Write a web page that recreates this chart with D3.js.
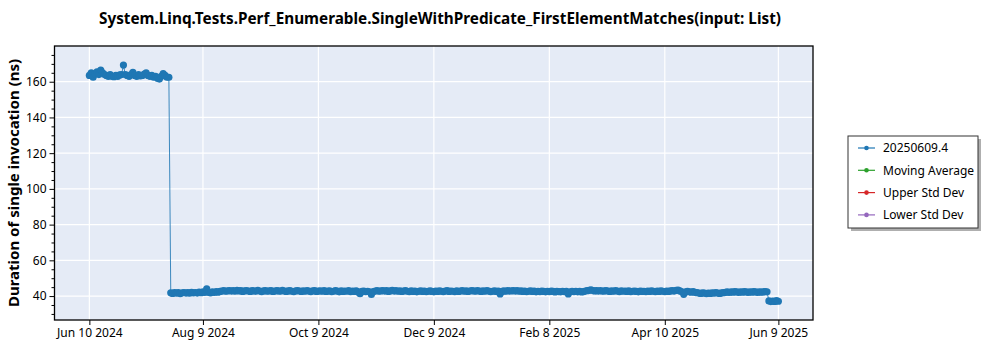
<!DOCTYPE html>
<html>
<head>
<meta charset="utf-8">
<script src="https://cdn.jsdelivr.net/npm/d3@7"></script>
<style>
  html, body { margin: 0; padding: 0; background: #fff; }
  svg { display: block; font-family: "Noto Sans", "Open Sans", sans-serif; }
</style>
</head>
<body>
<svg id="chart" width="1000" height="350"></svg>
<script>
// Benchmark run history: one measurement per day, starting on the first run date.
const title = "System.Linq.Tests.Perf_Enumerable.SingleWithPredicate_FirstElementMatches(input: List)";
const yLabel = "Duration of single invocation (ns)";
const seriesNames = ["20250609.4", "Moving Average", "Upper Std Dev", "Lower Std Dev"];
const seriesColors = ["#1f77b4", "#2ca02c", "#d62728", "#9467bd"];
const firstRunDate = "2024-06-10";
const xTickLabels = ["2024-06-10", "2024-08-09", "2024-10-09", "2024-12-09", "2025-02-08", "2025-04-10", "2025-06-09"];
const yTicks = [40, 60, 80, 100, 120, 140, 160];

// Jun 10 – Jul 22 2024
const durationsHigh = [
  163.5, 165.0, 162.5, 164.5, 165.5, 164.0, 166.5, 165.0, 164.0, 163.5,
  163.0, 164.0, 163.0, 162.8, 163.5, 163.0, 163.8, 164.0, 169.3, 164.0,
  163.5, 163.0, 164.0, 165.2, 163.5, 163.0, 164.0, 163.2, 163.5, 164.2,
  165.0, 163.5, 163.0, 163.5, 162.5, 163.0, 162.0, 161.5, 163.0, 164.5,
  163.5, 162.5, 162.5
];
// Jul 23 2024 – Jun 3 2025
const durationsLow = [
  41.8, 41.5, 42.0, 41.6, 41.9, 41.4, 41.8, 42.0, 41.7, 41.9,
  41.6, 42.1, 41.8, 42.0, 41.7, 42.2, 41.9, 42.3, 42.0, 44.0,
  42.1, 41.8, 42.3, 42.0, 42.5, 42.2, 42.6, 42.8, 43.0, 42.7,
  42.9, 43.1, 42.8, 43.0, 42.7, 43.2, 42.9, 43.0, 42.6, 42.9,
  43.1, 42.8, 42.6, 43.0, 42.9, 42.7, 43.2, 42.8, 42.5, 42.9,
  43.0, 42.7, 42.9, 43.1, 42.6, 42.8, 43.0, 42.9, 42.7, 43.2,
  42.8, 42.6, 42.9, 43.0, 42.7, 42.5, 42.9, 43.1, 42.8, 42.6,
  42.9, 42.7, 43.0, 42.8, 42.5, 42.9, 43.1, 42.6, 42.8, 42.9,
  42.7, 43.0, 42.6, 42.8, 42.9, 42.5, 42.7, 43.0, 42.8, 42.4,
  42.9, 42.6, 42.8, 42.7, 43.0, 42.5, 42.8, 42.6, 42.9, 42.3,
  41.3, 42.6, 42.8, 42.5, 42.7, 42.4, 40.9, 42.5, 42.8, 43.0,
  42.7, 42.9, 43.1, 42.8, 43.0, 42.6, 42.9, 43.2, 42.8, 43.0,
  42.7, 42.9, 42.6, 42.8, 43.0, 42.7, 42.5, 42.9, 42.6, 42.8,
  42.4, 42.7, 42.9, 42.6, 42.8, 42.5, 42.7, 42.9, 42.6, 42.4,
  42.8, 42.6, 42.9, 42.7, 42.5, 42.8, 43.0, 42.6, 42.8, 42.7,
  42.5, 42.9, 42.6, 42.8, 43.0, 42.7, 42.9, 42.6, 42.8, 43.1,
  42.9, 42.7, 43.0, 42.8, 42.6, 42.9, 42.7, 43.0, 42.8, 42.5,
  42.7, 42.9, 42.6, 42.8, 41.2, 42.6, 42.9, 42.7, 43.0, 42.8,
  42.9, 43.1, 42.8, 43.0, 42.7, 42.9, 42.6, 42.8, 42.5, 42.7,
  42.9, 42.6, 42.8, 42.4, 42.7, 42.5, 42.8, 42.6, 42.4, 42.7,
  42.5, 42.8, 42.6, 42.3, 42.7, 42.5, 42.4, 42.7, 42.5, 42.6,
  41.2, 42.4, 42.6, 42.5, 42.7, 42.4, 42.6, 42.3, 42.5, 42.8,
  43.0, 43.2, 43.5, 43.1, 42.9, 43.0, 42.8, 43.1, 42.7, 42.9,
  43.0, 42.8, 42.6, 42.9, 42.7, 43.0, 42.8, 42.5, 42.9, 42.7,
  42.8, 42.6, 42.9, 42.5, 42.7, 42.8, 42.6, 42.4, 42.8, 42.6,
  42.7, 42.5, 42.8, 42.6, 42.9, 42.7, 42.5, 42.8, 42.6, 42.9,
  42.7, 42.5, 42.8, 42.6, 42.9, 43.0, 42.8, 43.2, 43.4, 42.9,
  42.4, 41.0, 42.3, 42.6, 42.4, 42.2, 42.5, 42.1, 41.9, 41.7,
  41.5, 41.8, 41.6, 41.4, 41.7, 41.5, 41.8, 41.6, 41.9, 41.7,
  41.5, 41.8, 41.9, 42.1, 42.3, 42.0, 42.4, 42.2, 42.5, 42.3,
  42.1, 42.4, 42.2, 42.5, 42.3, 42.1, 42.4, 42.2, 42.5, 42.3,
  42.1, 42.4, 42.2, 42.3, 42.5, 42.4
];
// Jun 4 – Jun 9 2025
const durationsLatest = [37.3, 36.9, 37.2, 37.0, 37.4, 37.1];

const durations = durationsHigh.concat(durationsLow, durationsLatest);
const parseDay = d3.utcParse("%Y-%m-%d");
const start = parseDay(firstRunDate);
const points = durations.map((v, i) => ({ date: d3.utcDay.offset(start, i), value: v }));

const svg = d3.select("#chart");
const margin = { left: 54.5, top: 46, right: 813, bottom: 320 };

const x = d3.scaleUtc()
  .domain([new Date(Date.UTC(2024, 4, 22, 14)), new Date(Date.UTC(2025, 5, 27, 7))])
  .range([margin.left, margin.right]);
const y = d3.scaleLinear().domain([26.6, 180]).range([margin.bottom, margin.top]);

const xTicks = xTickLabels.map(parseDay);
const fmt = d3.utcFormat("%b %-d %Y");

// plot background
svg.append("rect")
  .attr("x", margin.left).attr("y", margin.top)
  .attr("width", margin.right - margin.left).attr("height", margin.bottom - margin.top)
  .attr("fill", "#e5ebf6");

// grid
const grid = svg.append("g").attr("stroke", "#ffffff").attr("stroke-width", 1.2);
grid.selectAll("line.v").data(xTicks).join("line")
  .attr("x1", d => x(d)).attr("x2", d => x(d))
  .attr("y1", margin.top).attr("y2", margin.bottom);
grid.selectAll("line.h").data(yTicks).join("line")
  .attr("y1", d => y(d)).attr("y2", d => y(d))
  .attr("x1", margin.left).attr("x2", margin.right);

// series
svg.append("clipPath").attr("id", "plotClip").append("rect")
  .attr("x", margin.left).attr("y", margin.top)
  .attr("width", margin.right - margin.left).attr("height", margin.bottom - margin.top);
const plot = svg.append("g").attr("clip-path", "url(#plotClip)");
const line = d3.line().x(d => x(d.date)).y(d => y(d.value));
plot.append("path").datum(points)
  .attr("fill", "none").attr("stroke", seriesColors[0]).attr("stroke-width", 1).attr("stroke-opacity", 0.85)
  .attr("d", line);
plot.selectAll("circle").data(points).join("circle")
  .attr("cx", d => x(d.date)).attr("cy", d => y(d.value)).attr("r", 3.6)
  .attr("fill", seriesColors[0]);

// axes
const xAxis = d3.axisBottom(x).tickValues(xTicks).tickFormat(fmt).tickSizeOuter(0).tickSize(5).tickPadding(3);
const gx = svg.append("g").attr("transform", `translate(0,${margin.bottom})`).call(xAxis);
const yMinor = d3.range(30, 180, 5).filter(v => v % 20 !== 0);
const gyMinor = svg.append("g").attr("transform", `translate(${margin.left},0)`)
  .call(d3.axisLeft(y).tickValues(yMinor).tickFormat("").tickSize(3).tickSizeOuter(0));
const gy = svg.append("g").attr("transform", `translate(${margin.left},0)`)
  .call(d3.axisLeft(y).tickValues(yTicks).tickSize(5).tickSizeOuter(0).tickPadding(3));
[gx, gy, gyMinor].forEach(g => {
  g.select(".domain").remove();
  g.selectAll("line").attr("stroke", "#000");
  g.selectAll("text").attr("fill", "#000").style("font-size", "12px")
    .style("font-family", "'Noto Sans', 'Open Sans', sans-serif");
});

// frame
svg.append("rect")
  .attr("x", margin.left).attr("y", margin.top)
  .attr("width", margin.right - margin.left).attr("height", margin.bottom - margin.top)
  .attr("fill", "none").attr("stroke", "#000").attr("stroke-width", 1.3);

// title
svg.append("text")
  .attr("x", 440).attr("y", 24).attr("text-anchor", "middle")
  .style("font-size", "15.3px").style("font-weight", "bold")
  .text(title);

// y label
svg.append("text")
  .attr("transform", `translate(19,${(margin.top + margin.bottom) / 2}) rotate(-90)`)
  .attr("text-anchor", "middle")
  .style("font-size", "15px").style("font-weight", "bold")
  .text(yLabel);

// legend
const lg = svg.append("g").attr("transform", "translate(848,136)");
lg.append("rect").attr("x", 3).attr("y", 3).attr("width", 130).attr("height", 92).attr("fill", "#7a7a7a").attr("opacity", 0.6);
lg.append("rect").attr("x", 0).attr("y", 0).attr("width", 130).attr("height", 92)
  .attr("fill", "#fff").attr("stroke", "#333").attr("stroke-width", 1);
const items = lg.selectAll("g.item").data(seriesNames).join("g")
  .attr("transform", (d, i) => `translate(0,${12 + i * 22.3})`);
items.append("line").attr("x1", 10).attr("x2", 27).attr("y1", 0).attr("y2", 0)
  .attr("stroke", (d, i) => seriesColors[i]).attr("stroke-width", 1.2);
items.append("circle").attr("cx", 18.5).attr("cy", 0).attr("r", 2.3)
  .attr("fill", (d, i) => seriesColors[i]);
items.append("text").attr("x", 35).attr("y", 0).attr("dy", "0.35em")
  .style("font-size", "12px").text(d => d);
</script>
</body>
</html>
